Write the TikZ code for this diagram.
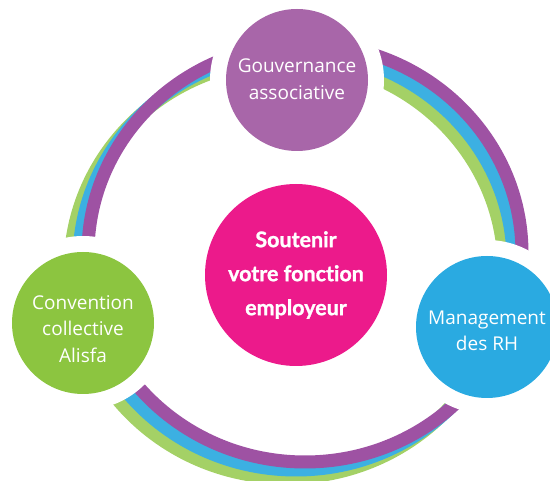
\documentclass[tikz,border=0pt]{standalone}
\usepackage{fontspec}
\setmainfont{Open Sans}
\newfontfamily\ctrfont{Lato}[Ligatures=NoCommon, BoldFeatures={FakeBold=1.2}]
\definecolor{bandpurple}{HTML}{9E52A3}
\definecolor{bandblue}{HTML}{3CB0E2}
\definecolor{bandgreen}{HTML}{A4D166}
\definecolor{govcol}{HTML}{A866A9}
\definecolor{ctrcol}{HTML}{EC1A8B}
\definecolor{convcol}{HTML}{8CC540}
\definecolor{mgmtcol}{HTML}{2AAAE1}
\begin{document}
\begin{tikzpicture}[x=1pt,y=-1pt,
  disc/.style={circle, inner sep=0pt, minimum size=142pt},
  label text/.style={inner sep=0pt, text=white, align=center,
    font=\fontsize{19}{26.5}\selectfont},
  centre/.style={circle, inner sep=0pt, minimum size=182pt, text=white, align=center,
    font=\ctrfont\bfseries\fontsize{21.5}{34}\selectfont},
  band/.style={line width=13pt},
  halo/.style={fill=white}]
\useasboundingbox (0,0) rectangle (550,481);
\clip (0,0) rectangle (550,481);
\coordinate (ring) at (296,261);
\coordinate (pgov) at (297,80);
\coordinate (pconv) at (83,323);
\coordinate (pmgmt) at (487,327);
\coordinate (pctr) at (296,275);
% rainbow ring
\draw[band, bandgreen] ([shift={(-9,8)}]ring) ellipse [x radius=217pt, y radius=209pt];
\draw[band, bandblue] (ring) ellipse [x radius=217pt, y radius=209pt];
\draw[band, bandpurple] ([shift={(9,-8)}]ring) ellipse [x radius=217pt, y radius=209pt];
% white halos cutting the ring
\fill[halo] (pgov) circle (87pt);
\fill[halo] (pconv) circle (87pt);
\fill[halo] (pmgmt) circle (87pt);
% circles
\node[disc, fill=govcol] (gov) at (pgov) {};
\node[disc, fill=convcol] (conv) at (pconv) {};
\node[disc, fill=mgmtcol] (mgmt) at (pmgmt) {};
\node[label text] (govtxt) at ([yshift=1pt]pgov) {Gouvernance\\associative};
\node[label text] (convtxt) at ([yshift=-6pt]pconv) {Convention\\collective\\Alisfa};
\node[label text] (mgmttxt) at ([yshift=-4pt]pmgmt) {Management\\des RH};
\node[centre, fill=ctrcol] (ctr) at (pctr) {Soutenir\\votre fonction\\employeur};
\end{tikzpicture}
\end{document}
